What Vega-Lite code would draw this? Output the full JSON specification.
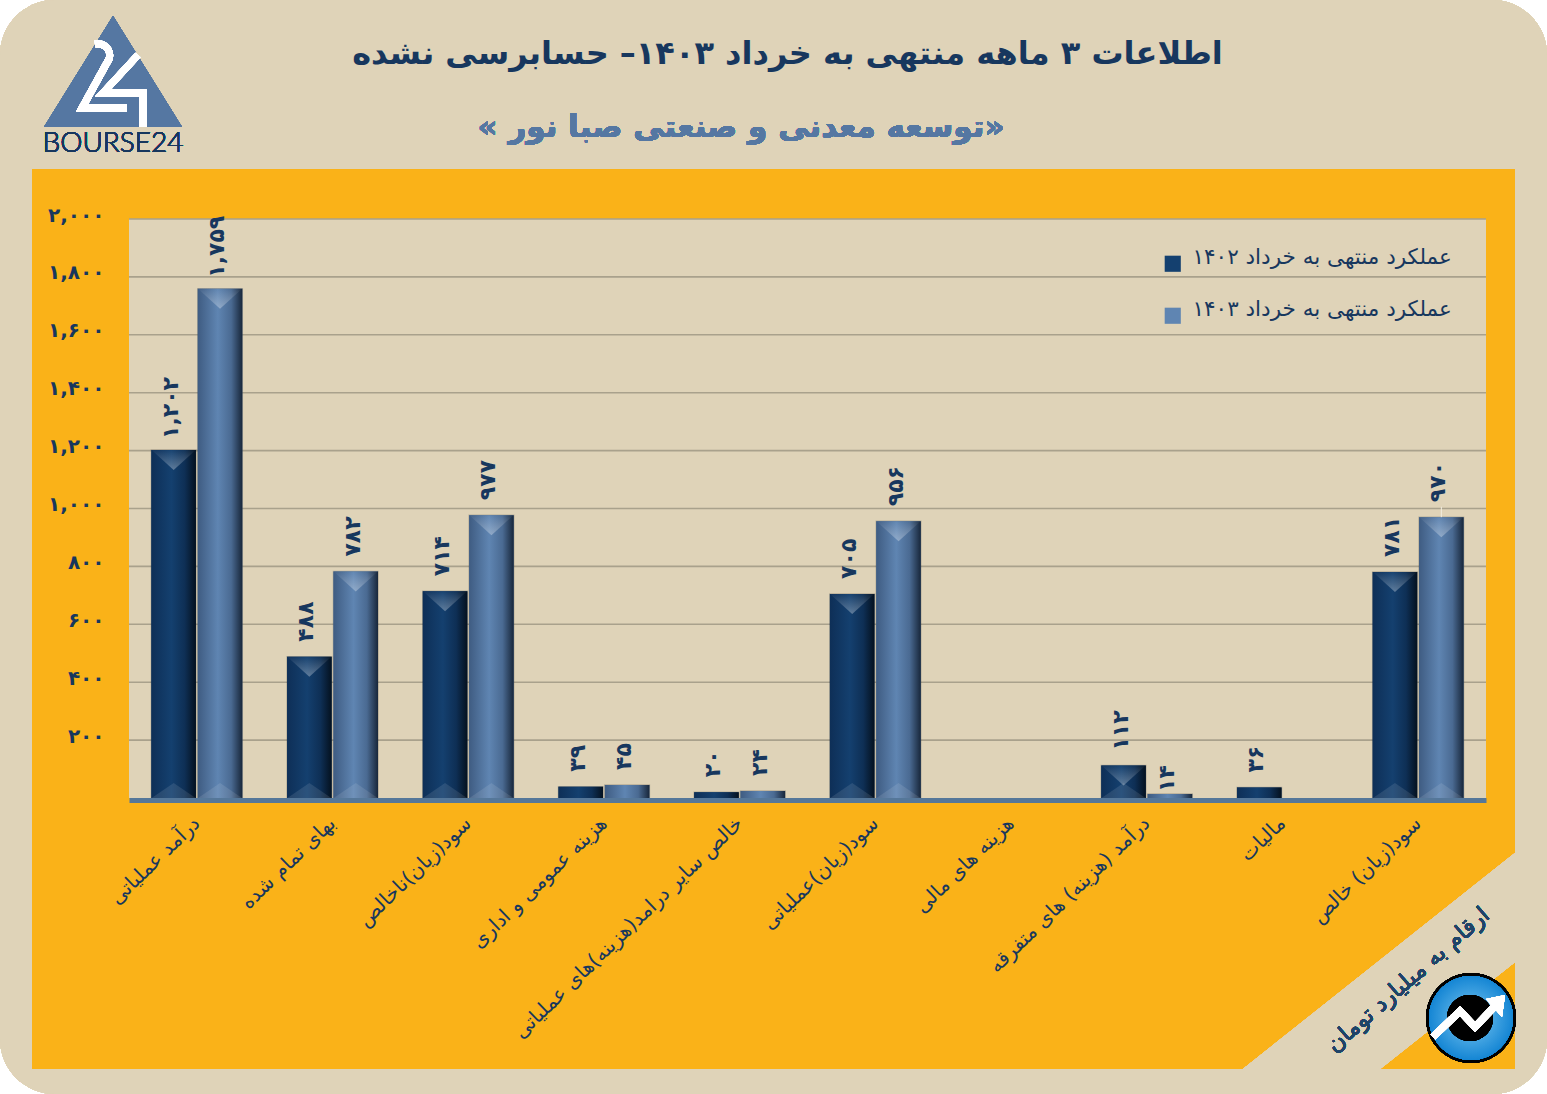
{
"$schema":"https://vega.github.io/schema/vega-lite/v6.json",
"autosize":{"type":"none"},
"width":1357,"height":579,
"padding":{"left":129,"top":219,"right":61,"bottom":296},
"background":"#ffffff",
"config":{"locale":{"number":{"decimal":".","thousands":",","grouping":[3],"currency":["",""],"numerals":["۰","۱","۲","۳","۴","۵","۶","۷","۸","۹"]}},"view":{"stroke":null},"font":"DejaVu Sans"},
"title":{"text":"اطلاعات ۳ ماهه منتهی به خرداد  ۱۴۰۳– حسابرسی نشده","anchor":"middle","dx":-20,"offset":-71,"fontSize":32,"fontWeight":"bold","color":"#17375e","font":"DejaVu Sans"},
"data":{"values":[
{"category":"درآمد عملیاتی","series":"عملکرد منتهی به خرداد ۱۴۰۲","value":1202},
{"category":"درآمد عملیاتی","series":"عملکرد منتهی به خرداد ۱۴۰۳","value":1759},
{"category":"بهای تمام شده","series":"عملکرد منتهی به خرداد ۱۴۰۲","value":488},
{"category":"بهای تمام شده","series":"عملکرد منتهی به خرداد ۱۴۰۳","value":782},
{"category":"سود(زیان)ناخالص","series":"عملکرد منتهی به خرداد ۱۴۰۲","value":714},
{"category":"سود(زیان)ناخالص","series":"عملکرد منتهی به خرداد ۱۴۰۳","value":977},
{"category":"هزینه عمومی و اداری","series":"عملکرد منتهی به خرداد ۱۴۰۲","value":39},
{"category":"هزینه عمومی و اداری","series":"عملکرد منتهی به خرداد ۱۴۰۳","value":45},
{"category":"خالص سایر درامد(هزینه)های عملیاتی","series":"عملکرد منتهی به خرداد ۱۴۰۲","value":20},
{"category":"خالص سایر درامد(هزینه)های عملیاتی","series":"عملکرد منتهی به خرداد ۱۴۰۳","value":24},
{"category":"سود(زیان)عملیاتی","series":"عملکرد منتهی به خرداد ۱۴۰۲","value":705},
{"category":"سود(زیان)عملیاتی","series":"عملکرد منتهی به خرداد ۱۴۰۳","value":956},
{"category":"درآمد (هزینه) های متفرقه","series":"عملکرد منتهی به خرداد ۱۴۰۲","value":112},
{"category":"درآمد (هزینه) های متفرقه","series":"عملکرد منتهی به خرداد ۱۴۰۳","value":14},
{"category":"مالیات","series":"عملکرد منتهی به خرداد ۱۴۰۲","value":36},
{"category":"سود(زیان) خالص","series":"عملکرد منتهی به خرداد ۱۴۰۲","value":781},
{"category":"سود(زیان) خالص","series":"عملکرد منتهی به خرداد ۱۴۰۳","value":970}
]},
"layer":[
{"mark":{"type":"rect","x":-129,"y":-219,"x2":1418,"y2":875,"cornerRadius":55,"fill":"#DFD3B8"},"encoding":{}},
{"mark":{"type":"rect","x":-97,"y":-50,"x2":1386,"y2":850,"fill":"#FAB218"},"encoding":{}},
{"mark":{"type":"rect","x":0,"y":0,"x2":1357,"y2":579,"fill":"#DFD3B8"},"encoding":{}},
{"mark":{"type":"point","filled":true,"opacity":1,"size":4,"x":-129,"y":-219,"fill":"#DFD3B8","shape":"M1515 853L1243 1069L1380 1069L1515 962Z"},"encoding":{}},
{"mark":{"type":"point","filled":true,"opacity":1,"size":4,"x":-129,"y":-219,"fill":"#5577A2","shape":"M113 16L182 127L44 127Z"},"encoding":{}},
{"mark":{"type":"point","filled":false,"opacity":1,"size":4,"x":-129,"y":-219,"stroke":"#ffffff","strokeWidth":7,"strokeJoin":"miter","shape":"M95 44C104 42 112 50 109 59L82 108L127 108"},"encoding":{}},
{"mark":{"type":"point","filled":false,"opacity":1,"size":4,"x":-129,"y":-219,"stroke":"#ffffff","strokeWidth":7,"strokeJoin":"miter","shape":"M138 55L103 93L143 93L143 127"},"encoding":{}},
{"mark":{"type":"text","x":-16,"y":-75,"text":"BOURSE24","font":"Lato","fontSize":28,"fontWeight":300,"color":"#17375e","align":"center","baseline":"middle"},"encoding":{}},
{"mark":{"type":"text","x":612,"y":-91,"text":"‏«توسعه معدنی و صنعتی صبا نور »‏","fontSize":31,"fontWeight":"bold","color":"#5577A2","align":"center","baseline":"middle"},"encoding":{}},
{"mark":{"type":"text","x":1279,"y":761,"angle":319,"text":"ارقام به میلیارد تومان","fontSize":23,"color":"#1F4468","align":"center","baseline":"middle"},"encoding":{}},
{"mark":{"type":"point","filled":true,"opacity":1,"size":4,"x":-129,"y":-219,"fill":"#000000","shape":"M1426 1018A45 45 0 1 0 1516 1018A45 45 0 1 0 1426 1018Z"},"encoding":{}},
{"mark":{"type":"point","filled":true,"opacity":1,"size":4,"x":-129,"y":-219,"fill":{"gradient":"radial","x1":0.5,"y1":0.5,"x2":0.5,"y2":0.5,"r1":0,"r2":0.5,"stops":[{"offset":0,"color":"#7CC8F2"},{"offset":1,"color":"#1586D4"}]},"shape":"M1429 1018A42 42 0 1 0 1513 1018A42 42 0 1 0 1429 1018Z"},"encoding":{}},
{"mark":{"type":"point","filled":true,"opacity":1,"size":4,"x":-129,"y":-219,"fill":"#000000","shape":"M1447 1018A23 23 0 1 0 1493 1018A23 23 0 1 0 1447 1018Z"},"encoding":{}},
{"mark":{"type":"point","filled":false,"opacity":1,"size":4,"x":-129,"y":-219,"stroke":"#ffffff","strokeWidth":7,"strokeJoin":"miter","shape":"M1433 1037L1460 1011L1475 1027L1497 1004"},"encoding":{}},
{"mark":{"type":"point","filled":true,"opacity":1,"size":4,"x":-129,"y":-219,"fill":"#ffffff","shape":"M1505 995L1486 999L1502 1017Z"},"encoding":{}},
{"data":{"values":[{"tick":200},{"tick":400},{"tick":600},{"tick":800},{"tick":1000},{"tick":1200},{"tick":1400},{"tick":1600},{"tick":1800},{"tick":2000}]},
 "mark":{"type":"rule","stroke":"#A9A18C","strokeWidth":1.6},
 "encoding":{"y":{"field":"tick","type":"quantitative","scale":{"domain":[0,2000]},
   "axis":{"title":null,"zindex":1,"grid":false,"domain":false,"ticks":false,"values":[200,400,600,800,1000,1200,1400,1600,1800,2000],"labelExpr":"format(datum.value, ',')","labelPadding":25,"labelFontSize":20,"labelFontWeight":"bold","labelColor":"#17375e","labelOffset":-4,"labelFont":"DejaVu Sans"}}}},
{"mark":{"type":"bar","stroke":"#000000","strokeOpacity":0.18,"strokeWidth":1.5},
 "encoding":{
  "x":{"field":"category","type":"nominal","sort":null,"scale":{"paddingInner":0.33,"paddingOuter":0.165,"domain":["درآمد عملیاتی","بهای تمام شده","سود(زیان)ناخالص","هزینه عمومی و اداری","خالص سایر درامد(هزینه)های عملیاتی","سود(زیان)عملیاتی","هزینه های مالی","درآمد (هزینه) های متفرقه","مالیات","سود(زیان) خالص"]},
   "axis":{"title":null,"zindex":1,"offset":2,"domain":true,"domainColor":"#557799","domainWidth":5,"ticks":false,"grid":false,"labelAngle":-44,"labelAlign":"right","labelBaseline":"middle","labelPadding":20,"labelFontSize":20,"labelColor":"#17375e","labelLimit":500,"labelFont":"DejaVu Sans"}},
  "xOffset":{"field":"series","type":"nominal","sort":null,"scale":{"domain":["عملکرد منتهی به خرداد ۱۴۰۲","عملکرد منتهی به خرداد ۱۴۰۳"],"paddingInner":0.04}},
  "y":{"field":"value","type":"quantitative"},
  "fill":{"field":"series","type":"nominal","title":null,
   "scale":{"domain":["عملکرد منتهی به خرداد ۱۴۰۲","عملکرد منتهی به خرداد ۱۴۰۳"],"range":["#14406F","#5F85B2"]},
   "legend":{"orient":"none","legendX":1033,"legendY":34,"symbolType":"square","symbolSize":260,"symbolStrokeWidth":0,"labelFontSize":21.5,"labelBaseline":"alphabetic","labelColor":"#17375e","labelLimit":400,"rowPadding":26,"labelOffset":9,"padding":0,
    "encode":{"symbols":{"update":{"fill":{"signal":"indexof(datum.value,'۱۴۰۲')>=0 ? {gradient:'linear',x1:0,y1:0,x2:1,y2:1,stops:[{offset:0,color:'#14406F'},{offset:1,color:'#04111F'}]} : {gradient:'linear',x1:0,y1:0,x2:1,y2:1,stops:[{offset:0,color:'#6C90BA'},{offset:1,color:'#2A3F5C'}]}"}}}}}}
 }},
{"transform":[{"filter":"indexof(datum.series,'۱۴۰۲')>=0"}],
 "mark":{"type":"bar","fill":{"gradient":"linear","x1":0,"x2":1,"y1":0,"y2":0,"stops":[{"offset":0,"color":"#0E2F57"},{"offset":0.45,"color":"#14406F"},{"offset":0.75,"color":"#0E2F55"},{"offset":1,"color":"#04111F"}]}},
 "encoding":{"x":{"field":"category","type":"nominal","sort":null},"xOffset":{"field":"series","type":"nominal","sort":null},"y":{"field":"value","type":"quantitative"}}},
{"transform":[{"filter":"indexof(datum.series,'۱۴۰۳')>=0"}],
 "mark":{"type":"bar","fill":{"gradient":"linear","x1":0,"x2":1,"y1":0,"y2":0,"stops":[{"offset":0,"color":"#3F5C82"},{"offset":0.45,"color":"#5F85B2"},{"offset":0.75,"color":"#4A6A92"},{"offset":1,"color":"#18273B"}]}},
 "encoding":{"x":{"field":"category","type":"nominal","sort":null},"xOffset":{"field":"series","type":"nominal","sort":null},"y":{"field":"value","type":"quantitative"}}},
{"transform":[{"filter":"datum.value>=100"}],
 "mark":{"type":"point","filled":true,"opacity":1,"size":4,"fill":{"gradient":"linear","x1":0,"x2":0,"y1":0,"y2":1,"stops":[{"offset":0,"color":"rgba(255,255,255,0.02)"},{"offset":1,"color":"rgba(255,255,255,0.32)"}]},"shape":"M-22 0L22 0L0 20Z"},
 "encoding":{"x":{"field":"category","type":"nominal","sort":null},"xOffset":{"field":"series","type":"nominal","sort":null},"y":{"field":"value","type":"quantitative"}}},
{"transform":[{"filter":"datum.value>=100"}],
 "mark":{"type":"point","filled":true,"opacity":1,"size":4,"y":579,"fill":"rgba(255,255,255,0.1)","shape":"M-22 0L22 0L0 -15Z"},
 "encoding":{"x":{"field":"category","type":"nominal","sort":null},"xOffset":{"field":"series","type":"nominal","sort":null}}},
{"transform":[{"filter":"datum.value==970"}],
 "mark":{"type":"rule","stroke":"#F2EDE0","strokeWidth":1},
 "encoding":{"x":{"field":"category","type":"nominal","sort":null},"xOffset":{"field":"series","type":"nominal","sort":null},"y":{"field":"value","type":"quantitative"},"y2":{"datum":1006}}},
{"transform":[{"filter":"datum.value!=14 && datum.value<1000"}],
 "mark":{"type":"text","angle":270,"align":"left","baseline":"middle","dx":15,"dy":-3,"fontSize":22,"fontWeight":"bold","color":"#17375e"},
 "encoding":{"x":{"field":"category","type":"nominal","sort":null},"xOffset":{"field":"series","type":"nominal","sort":null},"y":{"field":"value","type":"quantitative"},"text":{"field":"value","type":"quantitative","format":","}}},
{"transform":[{"filter":"datum.value>=1000"}],
 "mark":{"type":"text","angle":270,"align":"left","baseline":"middle","dx":11,"dy":-3,"fontSize":22,"fontWeight":"bold","color":"#17375e"},
 "encoding":{"x":{"field":"category","type":"nominal","sort":null},"xOffset":{"field":"series","type":"nominal","sort":null},"y":{"field":"value","type":"quantitative"},"text":{"field":"value","type":"quantitative","format":","}}},
{"transform":[{"filter":"datum.value==14"}],
 "mark":{"type":"text","angle":270,"align":"left","baseline":"middle","dx":2,"dy":-3,"fontSize":22,"fontWeight":"bold","color":"#17375e"},
 "encoding":{"x":{"field":"category","type":"nominal","sort":null},"xOffset":{"field":"series","type":"nominal","sort":null},"y":{"field":"value","type":"quantitative"},"text":{"field":"value","type":"quantitative","format":","}}}
]
}
